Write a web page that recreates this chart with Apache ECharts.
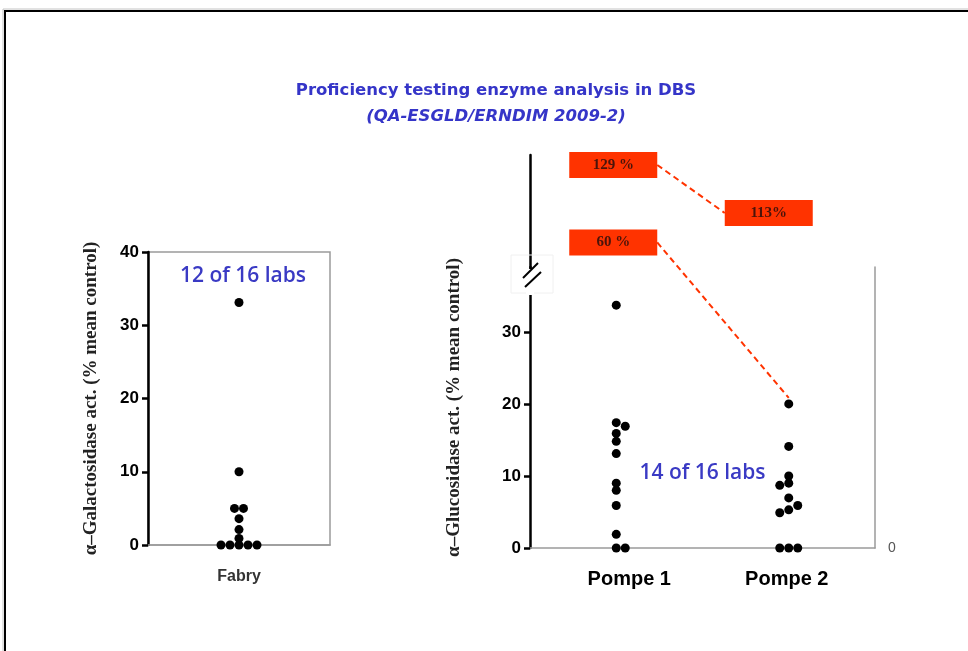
<!DOCTYPE html>
<html>
<head>
<meta charset="utf-8">
<title>Proficiency testing enzyme analysis in DBS</title>
<script src="https://cdn.jsdelivr.net/npm/echarts@6/dist/echarts.min.js"></script>
<style>
  html, body { margin: 0; padding: 0; background: #fff; }
  #chart { width: 968px; height: 651px; }
</style>
</head>
<body>
<div id="chart"></div>
<script>
// ---- data ----
const titleText = 'Proficiency testing enzyme analysis in DBS';
const subtitleText = '(QA-ESGLD/ERNDIM 2009-2)';

const fabryCategory = ['Fabry'];
const fabryValues = [33.1, 10, 5, 5, 3.6, 2.1, 0.9, 0, 0, 0, 0, 0];
const fabrySlots  = [0, 0, -0.5, 0.5, 0, 0, 0, -2, -1, 0, 1, 2];
const fabryNote = '12 of 16 labs';

const pompeCategories = ['Pompe 1', 'Pompe 2'];
const pompe1Values = [33.7, 17.4, 16.9, 15.9, 14.8, 13.1, 9.0, 8.0, 5.9, 1.9, 0, 0];
const pompe1Slots  = [0, 0, 1, 0, 0, 0, 0, 0, 0, 0, 0, 1];
const pompe2Values = [20, 14.1, 10, 9.0, 8.7, 6.95, 5.9, 5.3, 4.9, 0, 0, 0];
const pompe2Slots  = [0, 0, 0, 0, -1, 0, 1, 0, -1, -1, 0, 1];
const pompeNote = '14 of 16 labs';

// off-scale results (percent of mean control), shown above the axis break
const offScaleValues = [129, 113, 60];
const offScaleLabels = ['129 %', '113%', '60 %'];
const offScaleCategory = [0, 1, 0];

const fabryTicks = [0, 10, 20, 30, 40];
const pompeTicks = [0, 10, 20, 30];

// ---- layout ----
const gridFabry = { left: 148, top: 252, width: 182, height: 293 };
const gridPompe = { left: 530, top: 267, width: 345, height: 281 };
const gridUpper = { left: 530, top: 155, width: 345, height: 113 };
const jitterPx = 9;
const boxSize = [88, 26];
const boxShiftPx = [-3, -20, -3];
const boxRows = [0.912, 0.487, 0.226];

const sans = 'Liberation Sans, Arial, sans-serif';
const serif = 'Liberation Serif, Times New Roman, serif';
const black = '#000';
const boxRed = '#ff3300';
const noteBlue = '#3a3ac4';

function slotX(center, slot, grid, range) {
  return center + slot * jitterPx * range / grid.width;
}

const fabryData = fabryValues.map((v, i) => [slotX(0.5, fabrySlots[i], gridFabry, 1), v]);
const pompe1Data = pompe1Values.map((v, i) => [slotX(0.5, pompe1Slots[i], gridPompe, 2), v]);
const pompe2Data = pompe2Values.map((v, i) => [slotX(1.5, pompe2Slots[i], gridPompe, 2), v]);
const boxData = offScaleValues.map((v, i) => ({
  value: [slotX(offScaleCategory[i] + 0.5, boxShiftPx[i] / jitterPx, gridUpper, 2), boxRows[i]],
  name: offScaleLabels[i],
  pct: v
}));

const dotStyle = { color: '#000', opacity: 1 };

const chart = echarts.init(document.getElementById('chart'), null, { renderer: 'canvas' });

chart.setOption({
  backgroundColor: '#fff',
  animation: false,
  title: [
    {
      text: titleText, left: 491, top: 77, textAlign: 'center',
      textStyle: { color: '#3535c8', fontFamily: 'DejaVu Sans, sans-serif', fontWeight: 'bold', fontSize: 16.5 }
    },
    {
      text: subtitleText, left: 491, top: 103, textAlign: 'center',
      textStyle: { color: '#3535c8', fontFamily: 'DejaVu Sans, sans-serif', fontWeight: 'bold', fontStyle: 'italic', fontSize: 16.5 }
    }
  ],
  grid: [
    Object.assign({ show: true, borderColor: '#9a9a9a', borderWidth: 1.5, backgroundColor: 'transparent' }, gridFabry),
    Object.assign({}, gridPompe),
    Object.assign({}, gridUpper)
  ],
  xAxis: [
    {
      gridIndex: 0, type: 'value', min: 0, max: 1, interval: 0.5,
      axisLine: { show: true, lineStyle: { color: '#9a9a9a', width: 1.5 } },
      axisTick: { show: false }, splitLine: { show: false },
      axisLabel: {
        margin: 24, color: '#333', fontFamily: sans, fontWeight: 'bold', fontSize: 16,
        formatter: v => (v === 0.5 ? fabryCategory[0] : '')
      }
    },
    {
      gridIndex: 1, type: 'value', min: 0, max: 2, interval: 0.5,
      axisLine: { show: true, lineStyle: { color: '#9a9a9a', width: 1.5 } },
      axisTick: { show: false }, splitLine: { show: false },
      axisLabel: {
        margin: 21, color: black, fontFamily: sans, fontWeight: 'bold', fontSize: 20,
        formatter: v => (v === 0.5 ? '{p1|' + pompeCategories[0] + '}' : v === 1.5 ? '{p2|' + pompeCategories[1] + '}' : ''),
        rich: {
          p1: { fontFamily: sans, fontWeight: 'bold', fontSize: 20, color: black, padding: [0, 0, 0, 26] },
          p2: { fontFamily: sans, fontWeight: 'bold', fontSize: 20, color: black, padding: [0, 4, 0, 0] }
        }
      }
    },
    {
      gridIndex: 2, type: 'value', min: 0, max: 2, show: false
    }
  ],
  yAxis: [
    {
      gridIndex: 0, type: 'value', min: 0, max: 40, interval: 10,
      axisLine: { show: true, lineStyle: { color: black, width: 2.5 } },
      axisTick: { show: true, length: 6, lineStyle: { color: black, width: 2.5 }, customValues: fabryTicks },
      splitLine: { show: false },
      axisLabel: { margin: 9, color: black, fontFamily: sans, fontWeight: 'bold', fontSize: 17, customValues: fabryTicks },
      name: 'α–Galactosidase act. (% mean control)',
      nameLocation: 'middle', nameGap: 47, nameRotate: 90,
      nameTextStyle: { color: '#222', fontFamily: serif, fontWeight: 'bold', fontSize: 19 }
    },
    {
      gridIndex: 1, type: 'value', min: 0, max: 39, interval: 10,
      axisLine: { show: true, lineStyle: { color: black, width: 2.5 } },
      axisTick: { show: true, length: 6, lineStyle: { color: black, width: 2.5 }, customValues: pompeTicks },
      splitLine: { show: false },
      axisLabel: { margin: 9, color: black, fontFamily: sans, fontWeight: 'bold', fontSize: 17, customValues: pompeTicks },
      name: 'α–Glucosidase act. (% mean control)',
      nameLocation: 'middle', nameGap: 66, nameRotate: 90,
      nameTextStyle: { color: '#222', fontFamily: serif, fontWeight: 'bold', fontSize: 19 }
    },
    {
      gridIndex: 1, type: 'value', min: 0, max: 39, position: 'right',
      axisLine: { show: true, lineStyle: { color: '#9a9a9a', width: 1.5 } },
      axisTick: { show: false }, splitLine: { show: false },
      axisLabel: { margin: 13, color: '#555', fontFamily: sans, fontSize: 14, customValues: [0] }
    },
    {
      gridIndex: 2, type: 'value', min: 0, max: 1,
      axisLine: { show: true, lineStyle: { color: black, width: 2.5 } },
      axisTick: { show: false }, axisLabel: { show: false }, splitLine: { show: false }
    }
  ],
  series: [
    {
      name: fabryCategory[0], type: 'scatter', xAxisIndex: 0, yAxisIndex: 0,
      symbolSize: 9, itemStyle: dotStyle, data: fabryData, z: 5
    },
    {
      name: pompeCategories[0], type: 'scatter', xAxisIndex: 1, yAxisIndex: 1,
      symbolSize: 9, itemStyle: dotStyle, data: pompe1Data, z: 5
    },
    {
      name: pompeCategories[1], type: 'scatter', xAxisIndex: 1, yAxisIndex: 1,
      symbolSize: 9, itemStyle: dotStyle, data: pompe2Data, z: 5
    },
    {
      name: 'off-scale', type: 'scatter', xAxisIndex: 2, yAxisIndex: 3,
      symbol: 'rect', symbolSize: boxSize, clip: false, z: 6,
      itemStyle: { color: boxRed, opacity: 1 },
      label: {
        show: true, position: 'inside', formatter: p => p.name,
        color: '#4a140a', fontFamily: serif, fontWeight: 'bold', fontSize: 15
      },
      data: boxData
    }
  ]
});

// ---- annotations anchored through the axes ----
const boxPx = boxData.map(d => chart.convertToPixel({ gridIndex: 2 }, d.value));
const linkedDot = chart.convertToPixel({ gridIndex: 1 }, pompe2Data[0]);
const axisTopLower = chart.convertToPixel({ gridIndex: 1 }, [0, 39]);
const fabryLabelPos = chart.convertToPixel({ gridIndex: 0 }, [0.5, 40]);
const pompeNotePos = chart.convertToPixel({ gridIndex: 1 }, [1.0, 10]);

const dash = { stroke: boxRed, lineWidth: 2, lineDash: [6, 4] };
const bx = axisTopLower[0], by = axisTopLower[1];

chart.setOption({
  graphic: [
    // page frame
    { type: 'rect', id: 'frameShadow', silent: true, z: 0,
      shape: { x: 3, y: 9, width: 1000, height: 700 }, style: { fill: 'none', stroke: '#c4c4c4', lineWidth: 1 } },
    { type: 'rect', id: 'frame', silent: true, z: 0,
      shape: { x: 5, y: 11, width: 1000, height: 700 }, style: { fill: 'none', stroke: '#000', lineWidth: 2 } },
    // panel notes
    { type: 'text', id: 'fabryNote', z: 10,
      x: fabryLabelPos[0] + 4, y: fabryLabelPos[1] + 24,
      style: { text: fabryNote, fill: noteBlue, font: '600 21px "Open Sans", sans-serif', align: 'center', verticalAlign: 'middle' } },
    { type: 'text', id: 'pompeNote', z: 10,
      x: pompeNotePos[0], y: pompeNotePos[1] - 3,
      style: { text: pompeNote, fill: noteBlue, font: '600 21px "Open Sans", sans-serif', align: 'center', verticalAlign: 'middle' } },
    // axis break
    { type: 'rect', id: 'breakFrame', z: 3, silent: true,
      shape: { x: bx - 19, y: by - 12, width: 42, height: 38 }, style: { fill: 'none', stroke: '#f0f0f0', lineWidth: 1 } },
    { type: 'rect', id: 'breakGap', z: 4, silent: true,
      shape: { x: bx - 4, y: by + 2, width: 8, height: 26 }, style: { fill: '#fff' } },
    { type: 'line', id: 'break1', z: 5, silent: true,
      shape: { x1: bx - 7, y1: by + 11, x2: bx + 8, y2: by - 4 }, style: { stroke: '#000', lineWidth: 2 } },
    { type: 'line', id: 'break2', z: 5, silent: true,
      shape: { x1: bx - 5, y1: by + 20, x2: bx + 11, y2: by + 5 }, style: { stroke: '#000', lineWidth: 2 } },
    // links between the off-scale results
    { type: 'line', id: 'link1', z: 4, silent: true,
      shape: { x1: boxPx[0][0] + boxSize[0] / 2, y1: boxPx[0][1], x2: boxPx[1][0] - boxSize[0] / 2, y2: boxPx[1][1] },
      style: dash },
    { type: 'line', id: 'link2', z: 4, silent: true,
      shape: { x1: boxPx[2][0] + boxSize[0] / 2, y1: boxPx[2][1], x2: linkedDot[0], y2: linkedDot[1] - 6 },
      style: dash }
  ]
});
</script>
</body>
</html>
